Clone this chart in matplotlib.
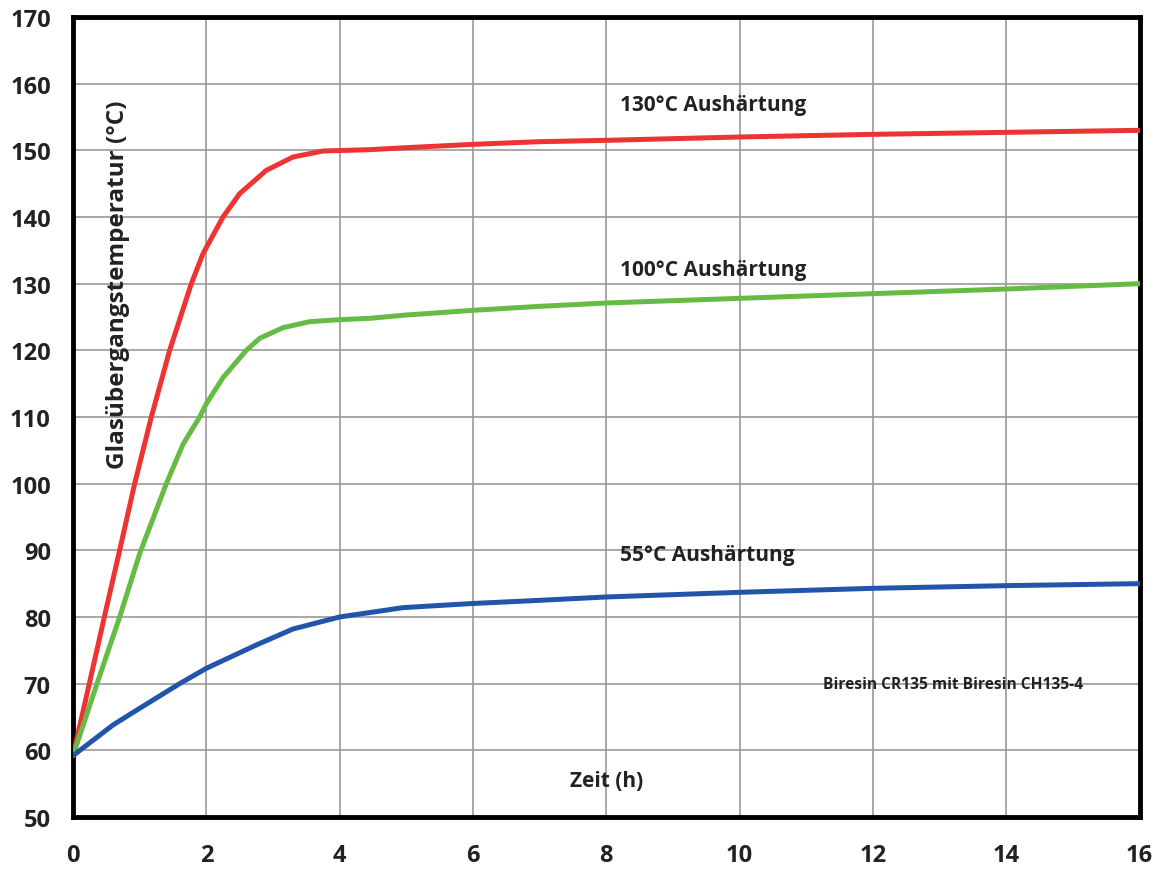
import matplotlib
matplotlib.use("Agg")
import matplotlib.pyplot as plt

# Data
t_130 = [0, 0.245, 0.47, 0.7, 0.925, 1.175, 1.45, 1.775, 1.95, 2.25, 2.5, 2.9, 3.3, 3.75,
         4.45, 5.0, 6.0, 7.0, 8.0, 10.0, 12.0, 14.0, 16.0]
tg_130 = [59.2, 70, 80, 90, 100, 110, 120, 130, 134.5, 140, 143.5, 147, 149, 149.9,
          150.1, 150.4, 150.9, 151.3, 151.5, 152.0, 152.4, 152.7, 153.0]

t_100 = [0, 0.36, 0.7, 1.0, 1.4, 1.65, 1.9, 2.0, 2.25, 2.6, 2.8, 3.15, 3.55, 4.0, 4.45,
         5.0, 6.0, 7.0, 8.0, 10.0, 12.0, 14.0, 16.0]
tg_100 = [59.2, 70, 80, 89.5, 100, 105.9, 110, 112, 115.9, 120, 121.8, 123.4, 124.3, 124.6, 124.8,
          125.3, 126.0, 126.6, 127.1, 127.8, 128.5, 129.2, 130.0]

t_55 = [0, 0.6, 1.0, 1.6, 2.0, 2.75, 3.3, 4.0, 4.95, 5.95, 7.0, 8.0, 10.0, 12.0, 14.0, 16.0]
tg_55 = [59.2, 63.8, 66.3, 70, 72.3, 75.8, 78.2, 80, 81.4, 82, 82.5, 83.0, 83.7, 84.3, 84.7, 85.0]

x_ticks = [0, 2, 4, 6, 8, 10, 12, 14, 16]
y_ticks = [50, 60, 70, 80, 90, 100, 110, 120, 130, 140, 150, 160, 170]

plt.rcParams['font.family'] = ['Open Sans', 'DejaVu Sans']

fig = plt.figure(figsize=(11.7, 8.7), dpi=100)
ax = fig.add_axes([0.0624, 0.0598, 0.9116, 0.9195])

lw = 3.6
ax.plot(t_130, tg_130, color='#EE3333', lw=lw, solid_capstyle='round', solid_joinstyle='round', zorder=3)
ax.plot(t_100, tg_100, color='#66BB44', lw=lw, solid_capstyle='round', solid_joinstyle='round', zorder=3)
ax.plot(t_55, tg_55, color='#2255AA', lw=lw, solid_capstyle='round', solid_joinstyle='round', zorder=3)

ax.set_xlim(0, 16)
ax.set_ylim(50, 170)
ax.set_xticks(x_ticks)
ax.set_yticks(y_ticks)
ax.grid(True, color='#999999', lw=1.2)
ax.set_axisbelow(True)
for s in ax.spines.values():
    s.set_linewidth(3.5)
    s.set_color('black')
ax.tick_params(axis='y', length=0, pad=16, labelsize=17)
ax.tick_params(axis='x', length=0, pad=19, labelsize=17)
for lab in ax.get_xticklabels() + ax.get_yticklabels():
    lab.set_fontweight('bold')
    lab.set_color('#222222')

txt = dict(fontweight='bold', color='#222222', fontsize=15)
ax.text(8.2, 156.9, '130°C Aushärtung', va='center', ha='left', **txt)
ax.text(8.2, 132.1, '100°C Aushärtung', va='center', ha='left', **txt)
ax.text(8.2, 89.4, '55°C Aushärtung', va='center', ha='left', **txt)
ax.text(11.25, 70.0, 'Biresin CR135 mit Biresin CH135-4', va='center', ha='left',
        fontweight='bold', color='#222222', fontsize=11.2)
ax.text(8.0, 55.4, 'Zeit (h)', va='center', ha='center', **txt)
ax.text(0.67, 130.0, 'Glasübergangstemperatur (°C)', va='center', ha='center',
        rotation=90, fontweight='bold', color='#222222', fontsize=17.5)

fig.savefig('out.png', dpi=100)
